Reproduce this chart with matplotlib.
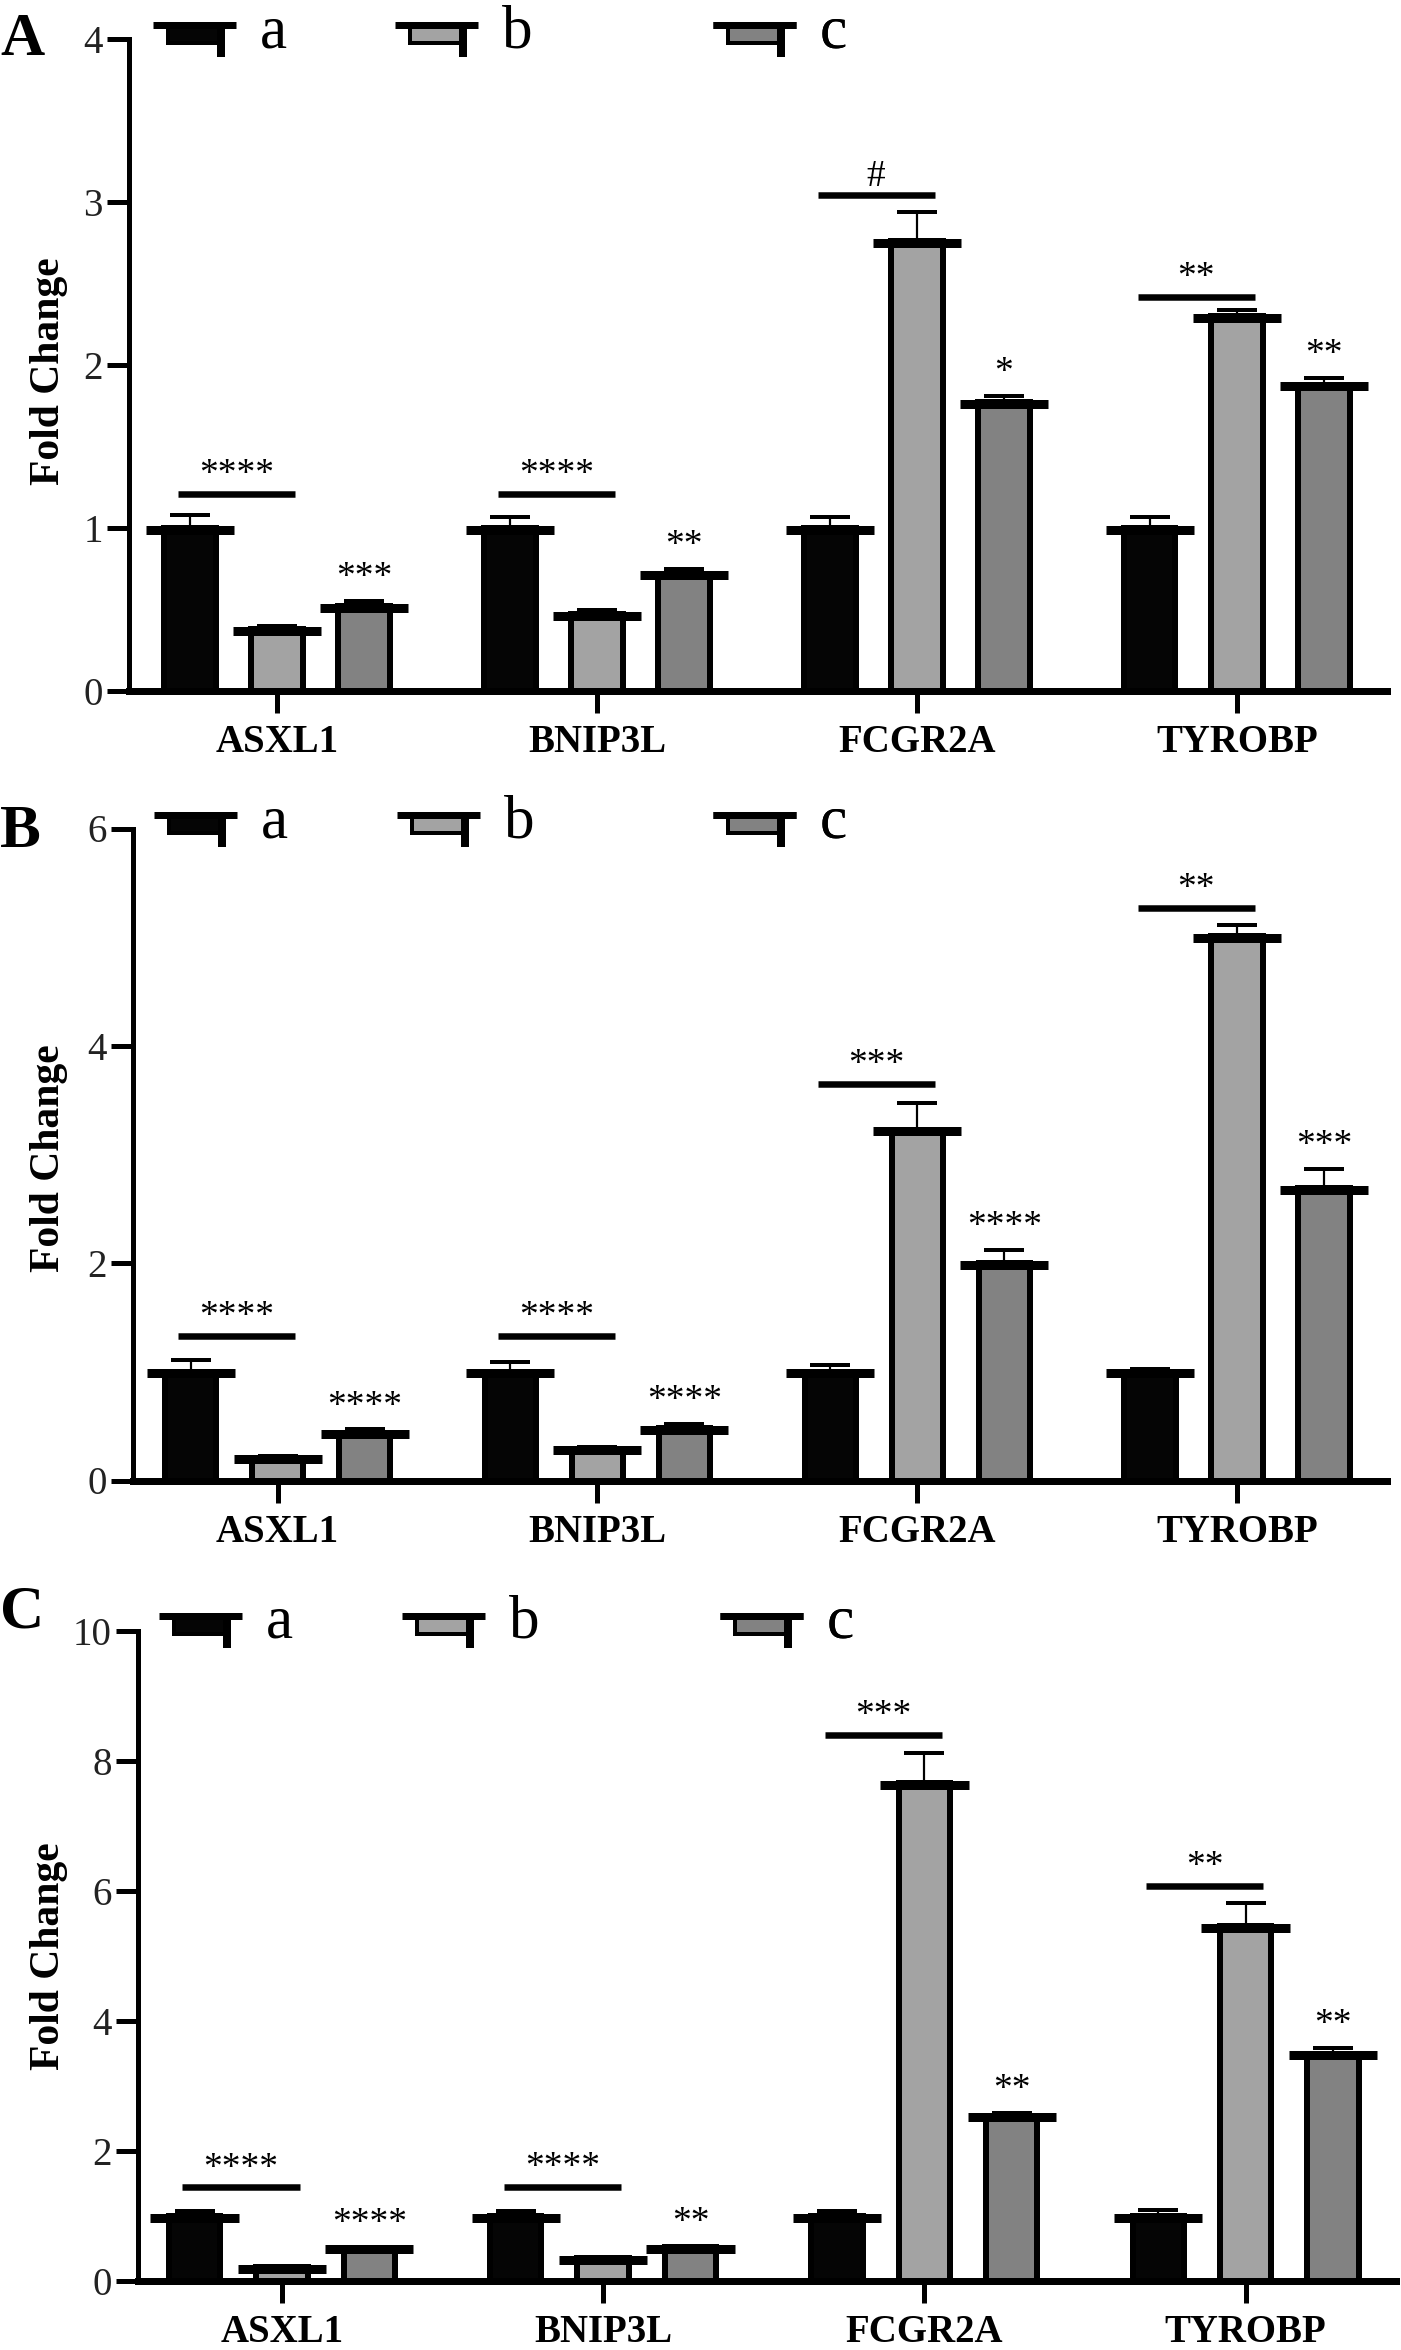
import matplotlib
matplotlib.use("Agg")
import matplotlib.pyplot as plt
import numpy as np
from matplotlib.patches import Rectangle
from matplotlib.lines import Line2D
from matplotlib.legend_handler import HandlerBase
from matplotlib.transforms import ScaledTranslation

plt.rcParams['font.family'] = ['Liberation Serif', 'DejaVu Serif']

# ---------------- data ----------------
genes = ["ASXL1", "BNIP3L", "FCGR2A", "TYROBP"]
groups = ["a", "b", "c"]
group_colors = ["#050505", "#a3a3a3", "#828282"]

# Panel A
A_a = [1.00, 1.00, 1.00, 1.00]
A_a_err = [0.08, 0.07, 0.07, 0.07]
A_b = [0.38, 0.47, 2.76, 2.30]
A_b_err = [0.02, 0.03, 0.18, 0.04]
A_c = [0.52, 0.72, 1.77, 1.88]
A_c_err = [0.03, 0.03, 0.04, 0.04]
A_bracket_y = [1.21, 1.21, 3.04, 2.42]
A_bracket_lab = ["****", "****", "#", "**"]
A_c_lab = ["***", "**", "*", "**"]
A_yticks = [0, 1, 2, 3, 4]

# Panel B
B_a = [1.00, 1.00, 1.00, 1.00]
B_a_err = [0.11, 0.09, 0.065, 0.03]
B_b = [0.21, 0.29, 3.23, 5.01]
B_b_err = [0.02, 0.02, 0.24, 0.10]
B_c = [0.44, 0.48, 2.00, 2.69]
B_c_err = [0.03, 0.04, 0.12, 0.18]
B_bracket_y = [1.33, 1.33, 3.65, 5.27]
B_bracket_lab = ["****", "****", "***", "**"]
B_c_lab = ["****", "****", "****", "***"]
B_yticks = [0, 2, 4, 6]

# Panel C
C_a = [1.00, 1.00, 1.00, 1.00]
C_a_err = [0.07, 0.07, 0.07, 0.09]
C_b = [0.21, 0.35, 7.66, 5.46]
C_b_err = [0.01, 0.02, 0.46, 0.36]
C_c = [0.51, 0.52, 2.54, 3.50]
C_c_err = [0.02, 0.02, 0.05, 0.09]
C_bracket_y = [1.44, 1.45, 8.40, 6.08]
C_bracket_lab = ["****", "****", "***", "**"]
C_c_lab = ["****", "**", "**", "**"]
C_yticks = [0, 2, 4, 6, 8, 10]

panel_letters = ["A", "B", "C"]

# ---------------- layout / style ----------------
W, H = 1401, 2350
DPI = 100
PX = 72.0 / DPI  # points per pixel

# axes boxes in pixels: left, top, right, bottom
boxes = [(129, 39, 1387, 691), (133, 828.5, 1387, 1480.5), (138, 1631, 1396, 2281)]
xlims = [(-0.4625, 3.469), (-0.452, 3.469), (-0.448, 3.468)]
ylabel_y = [0.49, 0.495, 0.5]
legend_x = [(153, 395, 713), (154, 397, 713), (159, 402, 720)]
legend_base = [47, 837, 1638]
letter_top = [12, 804, 1584]

OFFS = [-0.272, 0.0, 0.272]
BAR_W = 0.16
BAR_LW = 6 * PX
CAP_W = 0.275
CAP_LW = 9 * PX
FS_TICK = 28
FS_STAR = 27
FS_LEG = 44


class BarGlyph(HandlerBase):
    def create_artists(self, legend, orig_handle, xdescent, ydescent,
                       width, height, fontsize, trans):
        fc = orig_handle.get_facecolor()
        x0 = -xdescent
        yline = 22 * PX
        rect_bot = 4 * PX
        rl = x0 + 0.18 * width
        rr = x0 + 0.82 * width
        rect = Rectangle((rl, rect_bot), rr - rl, yline - rect_bot,
                         facecolor=fc, edgecolor="black", linewidth=4 * PX,
                         transform=trans)
        stub = Line2D([rr, rr], [yline, -10 * PX], color="black",
                      linewidth=8 * PX, solid_capstyle="butt", transform=trans)
        line = Line2D([x0, x0 + width], [yline, yline], color="black",
                      linewidth=7 * PX, solid_capstyle="butt", transform=trans)
        return [rect, stub, line]


fig = plt.figure(figsize=(W / DPI, H / DPI), dpi=DPI)

panels = [
    (A_a, A_a_err, A_b, A_b_err, A_c, A_c_err, A_bracket_y, A_bracket_lab, A_c_lab, A_yticks),
    (B_a, B_a_err, B_b, B_b_err, B_c, B_c_err, B_bracket_y, B_bracket_lab, B_c_lab, B_yticks),
    (C_a, C_a_err, C_b, C_b_err, C_c, C_c_err, C_bracket_y, C_bracket_lab, C_c_lab, C_yticks),
]

for p, (va_, vae, vb, vbe, vc, vce, bry, brl, cl, yt) in enumerate(panels):
    l, t, r, b = boxes[p]
    ax = fig.add_axes([l / W, 1 - b / H, (r - l) / W, (b - t) / H])
    x = np.arange(len(genes))
    series = [(va_, vae), (vb, vbe), (vc, vce)]
    handles = []
    shift = ScaledTranslation(0, -(CAP_LW - BAR_LW) / 2 / 72.0, fig.dpi_scale_trans)
    for g, (vals, errs) in enumerate(series):
        xp = x + OFFS[g]
        vals = np.asarray(vals)
        errs = np.asarray(errs)
        bars = ax.bar(xp, vals, width=BAR_W, color=group_colors[g],
                      edgecolor="black", linewidth=BAR_LW, zorder=2,
                      label=groups[g])
        handles.append(bars.patches[0])
        ax.errorbar(xp, vals, yerr=[np.zeros_like(errs), errs], fmt="none",
                    ecolor="black", elinewidth=2.2 * PX, capsize=20 * PX,
                    capthick=4 * PX, zorder=1)
        ax.hlines(vals, xp - CAP_W / 2, xp + CAP_W / 2, colors="black",
                  linewidth=CAP_LW, transform=ax.transData + shift, zorder=3)
        if g == 2:
            for xi, v, e, lab in zip(xp, vals, errs, cl):
                ax.annotate(lab, (xi, v + e), xytext=(0, 10), textcoords="offset points",
                            ha="center", va="baseline", fontsize=FS_STAR)
    # brackets between a and b
    for xi, yb, lab in zip(x, bry, brl):
        x1, x2 = xi - 0.31, xi + 0.055
        ax.hlines(yb, x1, x2, colors="black", linewidth=6.5 * PX, zorder=3)
        ax.annotate(lab, ((x1 + x2) / 2, yb), xytext=(0, 7), textcoords="offset points",
                    ha="center", va="baseline", fontsize=FS_STAR)

    ax.set_xlim(*xlims[p])
    ax.set_ylim(yt[0], yt[-1])
    ax.set_yticks(yt)
    ax.set_yticklabels([str(v) for v in yt])
    ax.set_xticks(x)
    ax.set_xticklabels(genes, fontweight="bold")
    for side in ["top", "right"]:
        ax.spines[side].set_visible(False)
    ax.spines["left"].set_linewidth(5 * PX)
    ax.spines["bottom"].set_linewidth(7 * PX)
    ax.tick_params(axis="y", length=22 * PX, width=5 * PX, pad=3,
                   labelsize=FS_TICK, labelcolor="#222222")
    ax.tick_params(axis="x", length=22 * PX, width=5 * PX, pad=8,
                   labelsize=FS_TICK)
    ax.set_ylabel("Fold Change", fontsize=30, fontweight="bold")
    ax.yaxis.set_label_coords((68 - l) / (r - l), ylabel_y[p])

    # legend entries
    for g in range(3):
        lx = legend_x[p][g]
        base = legend_base[p]
        leg = ax.legend([handles[g]], [groups[g]],
                        handler_map={type(handles[g]): BarGlyph()},
                        loc="lower left",
                        bbox_to_anchor=(lx / W, 1 - (base + 13) / H),
                        bbox_transform=fig.transFigure,
                        frameon=False, borderpad=0, borderaxespad=0,
                        handlelength=83 * PX / FS_LEG, handleheight=0.7,
                        handletextpad=24 * PX / FS_LEG, fontsize=FS_LEG)
        ax.add_artist(leg)

    fig.text(0.0, 1 - letter_top[p] / H, panel_letters[p], fontsize=44,
             fontweight="bold", ha="left", va="top")

fig.savefig("out.png", dpi=DPI)
